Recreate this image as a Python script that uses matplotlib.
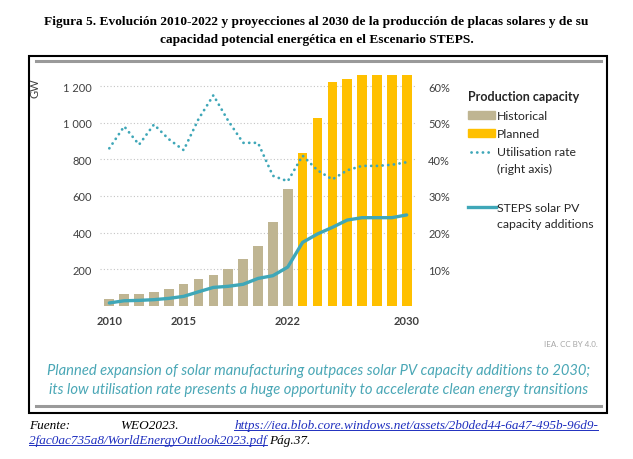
import matplotlib as mpl
import matplotlib.pyplot as plt
from matplotlib.patches import Rectangle
from matplotlib.lines import Line2D
import numpy as np

mpl.rcParams['font.family'] = 'Lato'

# datos (GW y %)
years = np.arange(2010, 2031)
hist_years = np.arange(2010, 2023)
hist_gw = [36, 62, 65, 75, 91, 118, 144, 167, 198, 253, 326, 457, 635]
plan_years = np.arange(2023, 2031)
plan_gw = [833, 1026, 1220, 1240, 1260, 1260, 1260, 1260]
steps_gw = [15, 27, 29, 33, 40, 51, 76, 100, 106, 117, 149, 164, 211,
            346, 392, 428, 468, 481, 481, 481, 496]
util_pct = [43, 49, 44, 49.5, 45.5, 42.5, 51, 57.5, 50.5, 44.5, 44.5, 35.5, 34,
            41, 37, 34.5, 37, 38.2, 38.2, 38.5, 39.2]

yticks_gw = [200, 400, 600, 800, 1000, 1200]
ytick_labels = ['200', '400', '600', '800', '1 000', '1 200']
yticks_pct = [10, 20, 30, 40, 50, 60]
ytick_pct_labels = ['10%', '20%', '30%', '40%', '50%', '60%']
xticks = [2010, 2015, 2022, 2030]

c_hist = '#bfb592'
c_plan = '#ffc000'
c_teal = '#3fa7b8'
c_tick = '#404040'
dots = (0, (0.05, 2.0))

W, H = 633, 460
def fx(x):
    return x / W
def fy(y):
    return 1 - y / H

fig = plt.figure(figsize=(W / 100, H / 100), dpi=100)

#%% marco
fig.patches.append(Rectangle((fx(29), fy(414)), fx(607) - fx(29), fy(57) - fy(414),
                             transform=fig.transFigure, fill=False, ec='black', lw=1.5))
for yy in (61.5, 407):
    fig.lines.append(Line2D([fx(36), fx(601)], [fy(yy), fy(yy)], transform=fig.transFigure,
                            color='#9a9a9a', lw=2.2))

#%% titulo
fig.text(0.5, fy(22), 'Figura 5. Evolución 2010-2022 y proyecciones al 2030 de la producción de placas solares y de su',
         ha='center', va='center', family='Liberation Serif', weight='bold', fontsize=9.6)
fig.text(0.5, fy(40), 'capacidad potencial energética en el Escenario STEPS.',
         ha='center', va='center', family='Liberation Serif', weight='bold', fontsize=9.6)

#%% grafico
ax = fig.add_axes([fx(100.4), fy(306.7), fx(415.6) - fx(100.4), fy(68.8) - fy(306.7)])
ax.bar(hist_years, hist_gw, width=0.65, color=c_hist, zorder=2)
ax.bar(plan_years, plan_gw, width=0.65, color=c_plan, zorder=2)
ax.plot(years, steps_gw, color=c_teal, lw=2.4, zorder=3, solid_capstyle='round')
ax.set_xlim(2009.4, 2030.6)
ax.set_ylim(0, 1300)
ax.set_yticks(yticks_gw)
ax.set_yticklabels(ytick_labels)
ax.set_xticks(xticks)
for s in ax.spines.values():
    s.set_visible(False)
ax.tick_params(axis='both', length=0, labelsize=8, colors=c_tick)
ax.tick_params(axis='y', pad=6)
ax.tick_params(axis='x', pad=7)
for t in ax.get_xticklabels():
    t.set_fontweight('bold')
ax.grid(axis='y', color='#c4c4c4', linestyle=(0, (1, 2)), lw=0.8)
ax.set_axisbelow(True)

ax2 = ax.twinx()
ax2.plot(years, util_pct, color=c_teal, lw=2.0, linestyle=dots,
         dash_capstyle='round', zorder=4)
ax2.set_ylim(0, 65)
ax2.set_yticks(yticks_pct)
ax2.set_yticklabels(ytick_pct_labels)
for s in ax2.spines.values():
    s.set_visible(False)
ax2.tick_params(axis='y', length=0, labelsize=8, colors=c_tick, pad=9)

fig.text(fx(35), fy(88), 'GW', rotation=90, ha='center', va='center', fontsize=8, color=c_tick)

#%% leyenda (a mano)
fig.text(fx(468), fy(97), 'Production capacity', weight='bold', fontsize=9, color='#262626', va='center')
fig.patches.append(Rectangle((fx(468), fy(120)), fx(495) - fx(468), fy(112) - fy(120),
                             transform=fig.transFigure, color=c_hist))
fig.patches.append(Rectangle((fx(468), fy(138)), fx(495) - fx(468), fy(130) - fy(138),
                             transform=fig.transFigure, color=c_plan))
fig.lines.append(Line2D([fx(471), fx(493)], [fy(152.5), fy(152.5)], transform=fig.transFigure,
                        color=c_teal, lw=2.0, linestyle=dots, dash_capstyle='round'))
fig.lines.append(Line2D([fx(468), fx(496)], [fy(208), fy(208)], transform=fig.transFigure,
                        color=c_teal, lw=2.4))
leg_txt = [('Historical', 116), ('Planned', 134), ('Utilisation rate', 152.5), ('(right axis)', 169),
           ('STEPS solar PV', 208), ('capacity additions', 225)]
for txt, yy in leg_txt:
    fig.text(fx(497), fy(yy), txt, fontsize=8.8, color='#262626', va='center')

#%% notas
fig.text(fx(598), fy(345), 'IEA. CC BY 4.0.', ha='right', va='center', fontsize=5.8, color='#a6a6a6')
fig.text(fx(319), fy(371), 'Planned expansion of solar manufacturing outpaces solar PV capacity additions to 2030;',
         ha='center', va='center', fontsize=10.6, style='italic', color='#4aa7b6')
fig.text(fx(319), fy(390), 'its low utilisation rate presents a huge opportunity to accelerate clean energy transitions',
         ha='center', va='center', fontsize=10.6, style='italic', color='#4aa7b6')

# fuente
fkw = dict(family='Liberation Serif', style='italic', fontsize=9.5, va='baseline')
fig.text(fx(29), fy(429), 'Fuente:', **fkw)
fig.text(fx(120), fy(429), 'WEO2023.', **fkw)
link1 = fig.text(fx(598), fy(429), 'https://iea.blob.core.windows.net/assets/2b0ded44-6a47-495b-96d9-',
                 ha='right', color='#1f2fbf', **fkw)
link2 = fig.text(fx(29), fy(444), '2fac0ac735a8/WorldEnergyOutlook2023.pdf', color='#1f2fbf', **fkw)

fig.canvas.draw()
r = fig.canvas.get_renderer()
for t in (link1, link2):
    bb = t.get_window_extent(r)
    fig.lines.append(Line2D([bb.x0 / W, bb.x1 / W], [(bb.y0 + 1.2) / H, (bb.y0 + 1.2) / H],
                            transform=fig.transFigure, color='#1f2fbf', lw=0.7))
bb2 = link2.get_window_extent(r)
fig.text(bb2.x1 / W + 0.004, fy(444), 'Pág.37.', **fkw)

plt.savefig('out.png', dpi=100)
